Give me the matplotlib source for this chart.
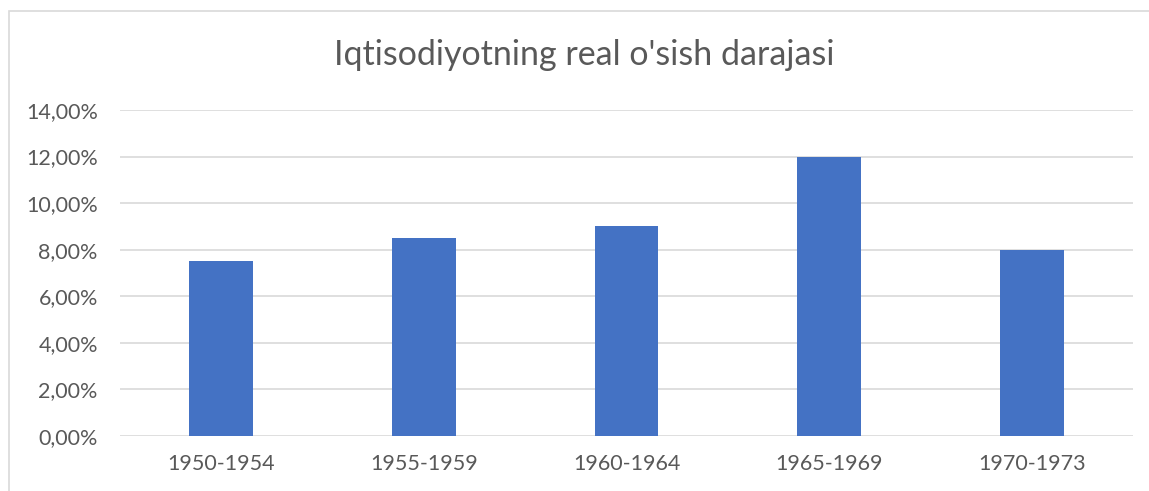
import matplotlib
matplotlib.use("Agg")
import matplotlib.pyplot as plt
from matplotlib.patches import Rectangle
from matplotlib.ticker import FuncFormatter

periods = ["1950-1954", "1955-1959", "1960-1964", "1965-1969", "1970-1973"]
growth = [7.5, 8.5, 9.0, 12.0, 8.0]
y_ticks = [0, 2, 4, 6, 8, 10, 12, 14]

plt.rcParams["font.family"] = ["Lato", "DejaVu Sans"]

fig = plt.figure(figsize=(11.49, 4.91), dpi=100)
# chart frame (Excel chart area border)
fig.patches.append(Rectangle((9 / 1149, -0.1), 1.2, 1 - 11 / 491 + 0.1,
                             transform=fig.transFigure, fill=False,
                             edgecolor="#d9d9d9", lw=1.2))
ax = fig.add_axes([120 / 1149, 1 - 436 / 491, 1013 / 1149, 326 / 491])

x = range(len(periods))
ax.bar(x, growth, width=0.315, color="#4472C4", zorder=3)
ax.set_xlim(-0.5, len(periods) - 0.5)
ax.set_ylim(0, 14)
ax.set_yticks(y_ticks)
ax.yaxis.set_major_formatter(FuncFormatter(lambda v, _: f"{v:.2f}".replace(".", ",") + "%"))
ax.set_xticks(list(x))
ax.set_xticklabels(periods)
ax.grid(axis="y", color="#d9d9d9", lw=1.2, zorder=0)
for s in ax.spines.values():
    s.set_visible(False)
ax.tick_params(length=0, labelsize=15.5, labelcolor="#595959")
ax.tick_params(axis="y", pad=16)
ax.tick_params(axis="x", pad=13)

fig.text(584 / 1149, 1 - 55 / 491, "Iqtisodiyotning real o'sish darajasi",
         ha="center", va="center", fontsize=24.5, color="#595959")

fig.savefig("out.png", dpi=100)
